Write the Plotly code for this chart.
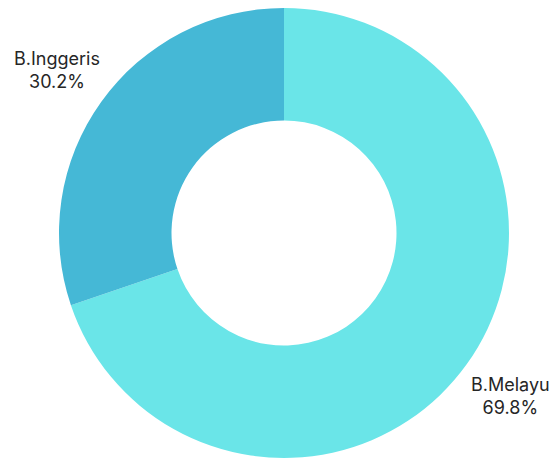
import math
import plotly.graph_objects as go

labels = ["B.Melayu", "B.Inggeris"]
values = [69.8, 30.2]
colors = ["#6ae5e8", "#45b8d6"]

fig = go.Figure(go.Pie(
    labels=labels,
    values=values,
    hole=0.5,
    sort=False,
    direction="clockwise",
    rotation=0,
    marker=dict(colors=colors, line=dict(width=0)),
    textinfo="none",
    hoverinfo="label+percent",
    showlegend=False,
    automargin=False,
    domain=dict(x=[0, 1], y=[0, 1]),
))

# outside labels placed along each slice's mid-angle, computed from the values
total = sum(values)
label_radius = 1.24  # relative to the pie radius
start = 0.0
annotations = []
for lab, val in zip(labels, values):
    frac = val / total
    mid = (start + frac / 2) * 2 * math.pi  # clockwise from 12 o'clock
    start += frac
    annotations.append(dict(
        xref="paper", yref="paper",
        x=0.5 + 0.5 * label_radius * math.sin(mid),
        y=0.5 + 0.5 * label_radius * math.cos(mid),
        xanchor="center", yanchor="middle",
        text=f"{lab}<br>{frac * 100:.1f}%",
        showarrow=False, align="center",
        font=dict(family="Inter", size=18, color="#262626"),
    ))

fig.update_layout(
    width=558, height=459,
    margin=dict(l=59, r=49, t=8, b=1, autoexpand=False),
    paper_bgcolor="white",
    annotations=annotations,
)
fig.write_html(
    "out.html",
    config={"displayModeBar": False},
    post_script="document.body.style.margin='0';document.body.style.overflow='hidden';",
)
